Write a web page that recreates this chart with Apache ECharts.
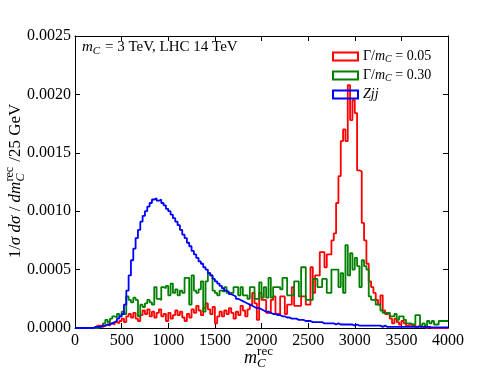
<!DOCTYPE html>
<html>
<head>
<meta charset="utf-8">
<script src="https://cdn.jsdelivr.net/npm/echarts@6/dist/echarts.min.js"></script>
<style>
  html, body { margin: 0; padding: 0; background: #fff; }
  #chart { width: 498px; height: 374px; }
</style>
</head>
<body>
<div id="chart"></div>
<script>
const SERIF = 'Liberation Serif';
const BIN = 25; // GeV
const xTicks = [0, 500, 1000, 1500, 2000, 2500, 3000, 3500, 4000];

// Γ/m_C = 0.05  (25 GeV bins, 0 - 4000)
const sig05 = [
  0,0,0,0,0,0,0,0, 0.00001,0.00002,0.00002,0.00001, 0.00002,0.00003,0.00002,0.00004, 0.00003,0.00005,0.00004,0.00006,
  0.00008,0.00005,0.00010,0.00012, 0.00009,0.00013,0.00008,0.00006, 0.00011,0.00015,0.00012,0.00016, 0.00010,0.00014,0.00009,0.00013, 0.00016,0.00010,0.00012,0.00006,
  0.00013,0.00008,0.00011,0.00015, 0.00011,0.00014,0.00009,0.00006, 0.00012,0.00009,0.00016,0.00013, 0.00019,0.00015,0.00011,0.00017, 0.00021,0.00016,0.00012,0.00018,
  0.00004,0.00010,0.00014,0.00010, 0.00015,0.00012,0.00017,0.00013, 0.00008,0.00014,0.00011,0.00019, 0.00015,0.00010,0.00016,0.00020, 0.00030,0.00021,0.00007,0.00030,
  0.00024,0.00024,0.00013,0.00013, 0.00024,0.00027,0.00012,0.00012, 0.00027,0.00027,0.00012,0.00020, 0.00020,0.00035,0.00019,0.00019, 0.00019,0.00027,0.00027,0.00020,
  0.00020,0.00052,0.00030,0.00045, 0.00045,0.00065,0.00065,0.00052, 0.00063,0.00063,0.00075,0.00081, 0.00107,0.00130,0.00160,0.00170, 0.00160,0.00208,0.00178,0.00195,
  0.00184,0.00135,0.00134,0.00090, 0.00075,0.00055,0.00040,0.00035, 0.00030,0.00024,0.00020,0.00028, 0.00015,0.00012,0.00013,0.00008, 0.00004,0.00008,0.00005,0.00003,
  0.00006,0.00004,0.00002,0.00003, 0.00002,0.00003,0.00001,0.00002, 0.00001,0.00001,0,0.00001, 0,0,0,0, 0,0,0,0
];

// Γ/m_C = 0.30
const sig30 = [
  0,0,0,0,0,0,0,0, 0,0,0.00001,0.00002, 0.00004,0.00007,0.00005,0.00008, 0.00010,0.00009,0.00012,0.00010,
  0.00014,0.00012,0.00027,0.00024, 0.00022,0.00026,0.00024,0.00010, 0.00020,0.00018,0.00021,0.00024, 0.00022,0.00020,0.00035,0.00025, 0.00024,0.00035,0.00034,0.00036,
  0.00028,0.00038,0.00030,0.00033, 0.00028,0.00032,0.00030,0.00043, 0.00043,0.00020,0.00045,0.00032, 0.00030,0.00033,0.00040,0.00014, 0.00040,0.00047,0.00045,0.00032,
  0.00030,0.00028,0.00032,0.00031, 0.00035,0.00030,0.00030,0.00030, 0.00035,0.00035,0.00028,0.00035, 0.00028,0.00028,0.00025,0.00035, 0.00035,0.00025,0.00025,0.00039,
  0.00026,0.00035,0.00026,0.00043, 0.00026,0.00035,0.00035,0.00035, 0.00033,0.00043,0.00043,0.00028, 0.00028,0.00028,0.00040,0.00040, 0.00027,0.00052,0.00052,0.00024,
  0.00024,0.00024,0.00042,0.00042, 0.00035,0.00035,0.00042,0.00042, 0.00030,0.00030,0.00050,0.00050, 0.00050,0.00035,0.00047,0.00030, 0.00071,0.00045,0.00064,0.00050,
  0.00060,0.00053,0.00035,0.00058, 0.00053,0.00050,0.00027,0.00024, 0.00024,0.00020,0.00020,0.00015, 0.00013,0.00013,0.00013,0.00010, 0.00010,0.00012,0.00007,0.00010,
  0.00010,0.00007,0.00004,0.00004, 0.00003,0.00003,0.00011,0.00011, 0.00002,0.00004,0.00002,0.00006, 0.00004,0.00006,0.00003,0.00003, 0.00006,0.00006,0.00006,0.00006
];

// Zjj background
const zjj = [
  0,0,0,0,0,0,0,0, 0.00001,0.00001,0.00001,0.00002, 0.00002,0.00003,0.00003,0.00004, 0.00005,0.00006,0.00008,0.00010,
  0.00012,0.00020,0.00032,0.00045, 0.00058,0.00068,0.00077,0.00084, 0.00091,0.00096,0.00100,0.00104, 0.00107,0.00110,0.00111,0.00109, 0.00110,0.00107,0.00105,0.00102,
  0.00100,0.00097,0.00094,0.00091, 0.00088,0.00084,0.00080,0.00077, 0.00073,0.00070,0.00066,0.00063, 0.00060,0.00057,0.00055,0.00052, 0.00050,0.00047,0.00045,0.00042,
  0.00040,0.00038,0.00036,0.00034, 0.00032,0.00031,0.00029,0.00028, 0.00027,0.00025,0.00024,0.00023, 0.00022,0.00021,0.00020,0.00019, 0.00018,0.00017,0.00017,0.00016,
  0.00015,0.00014,0.00014,0.00013, 0.00012,0.00012,0.00011,0.00011, 0.00010,0.00010,0.00009,0.00009, 0.00008,0.00008,0.00008,0.00007, 0.00007,0.00007,0.00006,0.00006,
  0.00006,0.00005,0.00005,0.00005, 0.00005,0.00005,0.00004,0.00004, 0.00004,0.00004,0.00004,0.00003, 0.00004,0.00003,0.00003,0.00003, 0.00003,0.00003,0.00003,0.00002,
  0.00003,0.00002,0.00002,0.00002, 0.00002,0.00002,0.00002,0.00002, 0.00002,0.00002,0.00002,0.00001, 0.00002,0.00001,0.00001,0.00001, 0.00001,0.00001,0.00001,0.00001,
  0.00001,0.00001,0.00001,0.00001, 0.00001,0.00001,0.00001,0.00001, 0.00001,0.00001,0.00001,0.00001, 0.000005,0.000005,0.000005,0.000005, 0.000005,0.000005,0.000005,0.000005
];

const seriesNames = ['sig05', 'sig30', 'zjj'];
const seriesColors = ['#ff0000', '#008000', '#0000ff'];
const legendLabels = {
  sig05: '{r|Γ/}{i|m}{s|C}{r| = 0.05}',
  sig30: '{r|Γ/}{i|m}{s|C}{r| = 0.30}',
  zjj: '{i|Zjj}'
};

// histogram -> step points (left edges + closing edge)
function toSteps(vals) {
  let pts = vals.map((v, i) => [i * BIN, v]);
  pts.push([vals.length * BIN, vals[vals.length - 1]]);
  return pts;
}

// little math-text layout with canvas measuring
const mctx = document.createElement('canvas').getContext('2d');
function tw(text, font) { mctx.font = font; return mctx.measureText(text).width; }

function mathText(pieces, size) {
  let x = 0;
  let kids = [];
  for (let p of pieces) {
    if (p.sub !== undefined || p.sup !== undefined) {
      let small = Math.round(size * 0.7);
      let w = 0;
      if (p.sup) {
        let f = small + 'px ' + SERIF;
        kids.push({ type: 'text', x: x, y: -size * 0.38, style: { text: p.sup, font: f, fill: '#000', verticalAlign: 'middle' } });
        w = Math.max(w, tw(p.sup, f));
      }
      if (p.sub) {
        let f = 'italic ' + small + 'px ' + SERIF;
        kids.push({ type: 'text', x: x, y: size * 0.3, style: { text: p.sub, font: f, fill: '#000', verticalAlign: 'middle' } });
        w = Math.max(w, tw(p.sub, f));
      }
      x += w + 1;
    } else {
      let f = (p.i ? 'italic ' : '') + size + 'px ' + SERIF;
      kids.push({ type: 'text', x: x, y: 0, style: { text: p.t, font: f, fill: '#000', verticalAlign: 'middle' } });
      x += tw(p.t, f);
    }
  }
  return { kids, width: x };
}

function centered(m) {
  m.kids.forEach(k => { k.x -= m.width / 2; });
  return m.kids;
}

const yName = mathText([
  { t: '1/' }, { t: 'σ dσ', i: true }, { t: ' / ' }, { t: 'dm', i: true },
  { sup: 'rec', sub: 'C' }, { t: ' /25 GeV' }
], 17);
const xName = mathText([{ t: 'm', i: true }, { sup: 'rec', sub: 'C' }], 18);
const note = mathText([{ t: 'm', i: true }, { sub: 'C' }, { t: ' = 3 TeV, LHC 14 TeV' }], 15);

const axisCommon = {
  type: 'value',
  axisLine: { show: true, onZero: false, lineStyle: { color: '#000', width: 1 } },
  axisTick: { show: true, inside: true, length: 5, lineStyle: { color: '#000' } },
  splitLine: { show: false }
};

const chart = echarts.init(document.getElementById('chart'));
chart.setOption({
  animation: false,
  backgroundColor: '#fff',
  grid: { left: 75, right: 50, top: 36, bottom: 46 },
  xAxis: [
    Object.assign({}, axisCommon, {
      min: xTicks[0], max: xTicks[xTicks.length - 1], interval: 500,
      axisLabel: { color: '#000', fontFamily: SERIF, fontSize: 16, margin: 5, formatter: v => String(v) }
    }),
    Object.assign({}, axisCommon, {
      position: 'top', min: 0, max: 4000, interval: 500, axisLabel: { show: false }
    })
  ],
  yAxis: [
    Object.assign({}, axisCommon, {
      min: 0, max: 0.0025, interval: 0.0005,
      axisLabel: { color: '#000', fontFamily: SERIF, fontSize: 16, margin: 4, formatter: v => v.toFixed(4) }
    }),
    Object.assign({}, axisCommon, {
      position: 'right', min: 0, max: 0.0025, interval: 0.0005, axisLabel: { show: false }
    })
  ],
  legend: {
    orient: 'vertical',
    left: 327, top: 43,
    itemWidth: 25, itemHeight: 8, itemGap: 2,
    icon: 'rect',
    formatter: n => legendLabels[n],
    textStyle: {
      color: '#000', fontFamily: SERIF, fontSize: 14, lineHeight: 17,
      rich: {
        r: { fontFamily: SERIF, fontSize: 14, color: '#000' },
        i: { fontFamily: SERIF, fontSize: 14, fontStyle: 'italic', color: '#000' },
        s: { fontFamily: SERIF, fontSize: 10, fontStyle: 'italic', color: '#000', verticalAlign: 'bottom', height: 11 }
      }
    },
    data: seriesNames.map((n, k) => ({
      name: n,
      itemStyle: { color: 'rgba(0,0,0,0)', borderColor: seriesColors[k], borderWidth: 2 }
    }))
  },
  graphic: [
    { type: 'group', x: 16, y: 181, rotation: Math.PI / 2, children: centered(yName) },
    { type: 'group', x: 259, y: 358, children: centered(xName) },
    { type: 'group', x: 82, y: 47, children: note.kids }
  ],
  series: seriesNames.map((n, k) => ({
    name: n,
    type: 'line',
    step: 'end',
    symbol: 'none',
    xAxisIndex: 0,
    yAxisIndex: 0,
    data: toSteps([sig05, sig30, zjj][k]),
    lineStyle: { color: seriesColors[k], width: 1.8 },
    itemStyle: { color: seriesColors[k] },
    z: 2 + k
  }))
});
</script>
</body>
</html>
